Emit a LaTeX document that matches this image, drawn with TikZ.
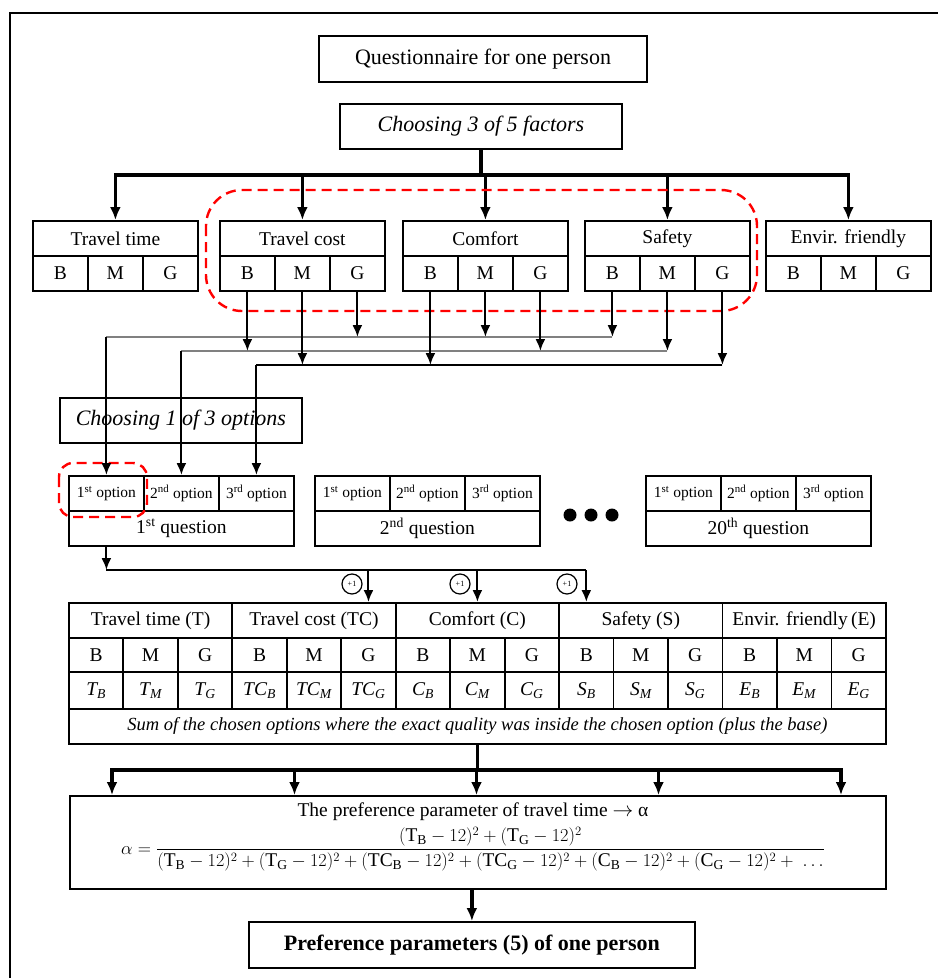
\documentclass[tikz,border=0pt]{standalone}
\usepackage{amsmath}
\usepackage{fontspec}
\setmainfont{Liberation Serif}
\usetikzlibrary{arrows.meta}
\newcommand{\sqdev}[2]{(\mathrm{#1}_{\mathrm{#2}}-12)^{2}}

\begin{document}
\begin{tikzpicture}[x=1pt,y=-1pt,
  box/.style={draw,line width=1.8pt,inner sep=0pt,align=center},
  cell/.style={box,minimum height=35pt,font=\fontsize{19.5}{22}\selectfont},
  optcell/.style={box,minimum width=75pt,minimum height=35pt,font=\fontsize{15.5}{18}\selectfont},
  link/.style={line width=2pt,-{Latex[length=12pt,width=10pt]}},
  wire/.style={line width=2pt},
  busline/.style={line width=3.5pt,line cap=rect},
  buslink/.style={line width=3.5pt,-{Latex[length=13pt,width=11pt]}},
  pick/.style={red,line width=2.4pt,dash pattern=on 10pt off 6pt},
  plusone/.style={draw,circle,line width=1.2pt,minimum size=20pt,inner sep=0pt,font=\fontsize{8}{8}\selectfont}]
\useasboundingbox (0,0) rectangle (938,978);

% frame
\draw[line width=2pt] (10,978) -- (10,13) -- (938,13);

\node[box,minimum width=328pt,minimum height=46pt,font=\fontsize{22}{26}\selectfont] (quest) at (483,59) {Questionnaire for one person};
\node[box,minimum width=282pt,minimum height=45pt,font=\fontsize{22}{26}\selectfont\itshape] (fact) at (481,126.5) {Choosing 3 of 5 factors};

% factors
\coordinate (top bus) at (0,175);
\draw[busline] (fact.south) -- (fact.south |- top bus);
\foreach \n/\l/\xl in {tt/Travel time/32, tc/Travel cost/219, co/Comfort/402, sa/Safety/584, ef/Envir. friendly/765}
{
  \node[cell,minimum width=165pt,anchor=north west] (\n) at (\xl,220) {\l};
  \node[cell,minimum width=55pt,anchor=north west] (\n-B) at (\xl,255) {B};
  \node[cell,minimum width=55pt,anchor=north west] (\n-M) at (\xl+55,255) {M};
  \node[cell,minimum width=55pt,anchor=north west] (\n-G) at (\xl+110,255) {G};
  \draw[buslink] (\n.north |- top bus) -- (\n.north);
}
\draw[busline] (tt.north |- top bus) -- (ef.north |- top bus);
\draw[pick,rounded corners=36pt] (206,190) rectangle (757,311);

% questions
\node[box,minimum width=242pt,minimum height=45pt,font=\fontsize{22}{26}\selectfont\itshape,anchor=north west] (opts) at (59,397) {Choosing 1 of 3 options};
\foreach \q/\xl/\lab in {q1/68/1\textsuperscript{st}, q2/314/2\textsuperscript{nd}, q20/645/20\textsuperscript{th}}
{
  \node[optcell,anchor=north west] (\q-1) at (\xl,475) {1\textsuperscript{st} option};
  \node[optcell,anchor=north west] (\q-2) at (\xl+75,475) {2\textsuperscript{nd} option};
  \node[optcell,anchor=north west] (\q-3) at (\xl+150,475) {3\textsuperscript{rd} option};
  \node[cell,minimum width=225pt,anchor=north west] (\q) at (\xl,510) {\lab\ question};
}
\foreach \x in {570,591,612} \fill (\x,515) circle (6.5pt);
\draw[pick,rounded corners=14pt] (59,463) rectangle (147,517);

% chosen levels to the options
\coordinate (opt one) at (0,337);
\coordinate (opt two) at (0,351);
\coordinate (opt three) at (0,365);
\foreach \a/\b/\c/\lvl/\o/\col in {tc-G/co-M/sa-B/opt one/1/gray, tc-B/co-G/sa-M/opt two/2/gray, tc-M/co-B/sa-G/opt three/3/black}
{
  \draw[wire,\col] (\c.south |- \lvl) -- (q1-\o.north |- \lvl);
  \draw[link] (\a.south) -- (\a.south |- \lvl);
  \draw[link] (\b.south) -- (\b.south |- \lvl);
  \draw[link] (\c.south) -- (\c.south |- \lvl);
  \draw[link] (q1-\o.north |- \lvl) -- (q1-\o.north);
}

% table of sums
\foreach \g/\h [count=\k from 0] in {T/Travel time (T),TC/Travel cost (TC),C/Comfort (C),S/Safety (S),E/Envir. friendly\,(E)}
{
  \node[cell,minimum width=163.4pt,anchor=north west] (h\g) at (68+163.4*\k,602) {\h};
  \foreach \v [count=\j from 0] in {B,M,G}
  {
    \node[cell,minimum width=54.47pt,minimum height=34pt,anchor=north west] (l\g\v) at (68+163.4*\k+54.47*\j,637) {\v};
    \node[cell,minimum width=54.47pt,minimum height=37pt,anchor=north west] (v\g\v) at (68+163.4*\k+54.47*\j,671) {\textit{\g\textsubscript{\v}}};
  }
}
\node[cell,minimum width=817pt,anchor=north west,font=\fontsize{18.5}{22}\selectfont\itshape] (sum) at (68,708) {Sum of the chosen options where the exact quality was inside the chosen option (plus the base)};

\coordinate (q line) at (0,570);
\draw[link] (q1-1.south |- q1.south) -- (q1-1.south |- q line);
\draw[wire] (q1-1.south |- q line) -- (lSB |- q line);
\foreach \c in {lTCG,lCM,lSB} \draw[link] (\c |- q line) -- (\c |- hT.north);
\node[plusone] (plus1) at (352,584) {+1};
\node[plusone] (plus2) at (460,584) {+1};
\node[plusone] (plus3) at (567,584) {+1};

% preference parameter
\coordinate (low bus) at (0,770);
\node[box,minimum width=816pt,minimum height=93pt,anchor=north west] (alpha) at (69,795) {};
\draw[busline] (sum.south) -- (sum.south |- low bus);
\draw[busline] (112,770) -- (841,770);
\foreach \x in {112,294.5,476.5,658.5,841} \draw[buslink] (\x,770) -- (\x,770 |- alpha.north);
\node[font=\fontsize{19.5}{22}\selectfont] (pref) at (473,812) {The preference parameter of travel time $\rightarrow$ α};
\node[font=\fontsize{18.3}{21}\selectfont] (formula) at (473,849) {\scalebox{1.06}{$\alpha = \dfrac{\sqdev{T}{B}+\sqdev{T}{G}}{\sqdev{T}{B}+\sqdev{T}{G}+\sqdev{TC}{B}+\sqdev{TC}{G}+\sqdev{C}{B}+\sqdev{C}{G}+\ \ldots}$}};

\node[box,minimum width=446pt,minimum height=46pt,anchor=north west,font=\fontsize{22}{26}\selectfont\bfseries] (result) at (248,921) {Preference parameters (5) of one person};
\draw[buslink] (result.north |- alpha.south) -- (result.north);

\end{tikzpicture}
\end{document}
